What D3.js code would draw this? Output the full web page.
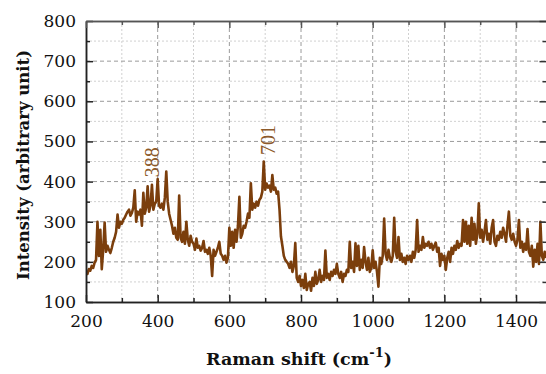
<!DOCTYPE html>
<html>
<head>
<meta charset="utf-8">
<script src="https://cdn.jsdelivr.net/npm/d3@7/dist/d3.min.js"></script>
<style>
  html, body { margin: 0; padding: 0; background: #fff; }
  svg { display: block; }
</style>
</head>
<body>
<svg id="chart" width="546" height="374"></svg>
<script>
// ---- data ----
const shiftStart = 200;   // cm-1, first sample
const shiftStep = 4;      // cm-1 between samples
const intensity = [
  // 200-296
  175,170,182,178,190,185,198,205,300,215,280,182,230,298,225,240,230,222,235,250,260,275,318,285,300,
  // 300-396
  295,305,310,318,325,330,315,322,335,378,300,325,318,330,290,372,320,335,388,325,340,392,330,345,350,
  // 400-496
  406,340,335,345,330,360,425,350,320,305,290,270,285,260,255,365,260,250,275,245,300,255,240,265,250,
  // 500-596
  245,230,258,235,240,228,235,252,225,230,220,235,215,165,230,215,225,235,250,220,215,205,215,198,210,
  // 600-696
  285,240,275,235,280,250,290,362,260,270,290,285,300,320,310,396,330,345,335,350,340,355,360,375,450,
  // 700-796
  380,395,385,390,375,416,380,385,370,375,330,263,240,215,205,200,195,185,200,175,190,247,160,150,165,
  // 800-896
  140,155,135,170,130,145,150,128,160,140,175,145,155,180,150,165,155,228,160,170,155,175,165,180,170,
  // 900-996
  195,170,160,175,150,170,165,180,175,250,185,200,175,246,190,240,180,205,185,237,200,180,210,175,185,
  // 1000-1096
  229,185,200,175,138,210,195,215,308,220,205,230,210,200,215,310,225,210,262,205,220,200,210,195,215,
  // 1100-1196
  205,215,200,225,210,230,304,225,240,230,262,235,245,240,250,235,245,230,240,248,225,235,190,220,205,
  // 1200-1296
  215,180,210,225,200,235,220,240,230,252,235,245,240,304,250,300,245,290,240,310,255,295,245,270,346,
  // 1300-1396
  260,280,250,275,304,255,270,245,285,304,250,240,265,255,275,260,285,270,250,290,325,265,255,270,250,
  // 1400-1484
  240,255,304,235,250,225,245,230,282,225,215,240,188,230,200,245,195,300,215,205,225,210
];
const xDomain = [200, 1485];
const yDomain = [100, 800];
const xMajorTicks = [200, 400, 600, 800, 1000, 1200, 1400];
const xMinorTicks = [300, 500, 700, 900, 1100, 1300];
const yMajorTicks = [100, 200, 300, 400, 500, 600, 700, 800];
const yMinorTicks = [150, 250, 350, 450, 550, 650, 750];
const peakLabels = ["388", "701"];
const peakX = [383, 708];
const peakLabelBase = [411, 466];

const points = intensity.map((v, i) => ({ x: shiftStart + i * shiftStep, y: v }));

// ---- layout ----
const svg = d3.select("#chart");
const L = 86, T = 21, R = 546.5, B = 302;
const lineColor = "#7b3e0c";
const labelColor = "#8d5a2a";

const x = d3.scaleLinear().domain(xDomain).range([L, R]);
const y = d3.scaleLinear().domain(yDomain).range([B, T]);

// grid
const grid = svg.append("g");
grid.selectAll(".hmin").data(yMinorTicks).join("line")
  .attr("x1", L).attr("x2", R).attr("y1", d => y(d)).attr("y2", d => y(d))
  .attr("stroke", "#d0d0d0").attr("stroke-width", 1).attr("stroke-dasharray", "2,2");
grid.selectAll(".vmin").data(xMinorTicks).join("line")
  .attr("y1", T).attr("y2", B).attr("x1", d => x(d)).attr("x2", d => x(d))
  .attr("stroke", "#d0d0d0").attr("stroke-width", 1).attr("stroke-dasharray", "2,2");
grid.selectAll(".hmaj").data(yMajorTicks.filter(d => d > yDomain[0] && d < yDomain[1])).join("line")
  .attr("x1", L).attr("x2", R).attr("y1", d => y(d)).attr("y2", d => y(d))
  .attr("stroke", "#9a9a9a").attr("stroke-width", 1).attr("stroke-dasharray", "4,3");
grid.selectAll(".vmaj").data(xMajorTicks.filter(d => d > xDomain[0])).join("line")
  .attr("y1", T).attr("y2", B).attr("x1", d => x(d)).attr("x2", d => x(d))
  .attr("stroke", "#9a9a9a").attr("stroke-width", 1).attr("stroke-dasharray", "4,3");

// clip
svg.append("clipPath").attr("id", "clip").append("rect")
  .attr("x", L).attr("y", T).attr("width", R - L).attr("height", B - T);

// line
const line = d3.line().x(d => x(d.x)).y(d => y(d.y));
svg.append("path").datum(points)
  .attr("clip-path", "url(#clip)")
  .attr("fill", "none").attr("stroke", lineColor)
  .attr("stroke-width", 2.6).attr("stroke-linejoin", "round")
  .attr("d", line);

// axes (ticks inward)
function styleAxis(g, color) {
  g.select(".domain").attr("stroke", color).attr("stroke-width", 1.5);
  g.selectAll(".tick line").attr("stroke", color).attr("stroke-width", 1.5);
}
const fontTick = "'DejaVu Serif', serif";

const xAxis = svg.append("g").attr("transform", `translate(0,${B})`)
  .call(d3.axisBottom(x).tickValues(xMajorTicks).tickSizeInner(-7).tickSizeOuter(0).tickPadding(13).tickFormat(d3.format("d")));
styleAxis(xAxis, "#222");
xAxis.selectAll(".tick text").attr("font-family", fontTick).attr("font-size", 17).attr("fill", "#111");
const xAxisMinor = svg.append("g").attr("transform", `translate(0,${B})`)
  .call(d3.axisBottom(x).tickValues(xMinorTicks).tickSizeInner(-4).tickSizeOuter(0).tickFormat(""));
styleAxis(xAxisMinor, "#222");

const yAxis = svg.append("g").attr("transform", `translate(${L},0)`)
  .call(d3.axisLeft(y).tickValues(yMajorTicks).tickSizeInner(-7).tickSizeOuter(0).tickPadding(10).tickFormat(d3.format("d")));
styleAxis(yAxis, "#222");
yAxis.selectAll(".tick text").attr("font-family", fontTick).attr("font-size", 17).attr("fill", "#111");
const yAxisMinor = svg.append("g").attr("transform", `translate(${L},0)`)
  .call(d3.axisLeft(y).tickValues(yMinorTicks).tickSizeInner(-4).tickSizeOuter(0).tickFormat(""));
styleAxis(yAxisMinor, "#222");

// top & right mirrored
const topA = svg.append("g").attr("transform", `translate(0,${T})`)
  .call(d3.axisTop(x).tickValues(xMajorTicks).tickSizeInner(-7).tickSizeOuter(0).tickFormat(""));
styleAxis(topA, "#555");
const topB = svg.append("g").attr("transform", `translate(0,${T})`)
  .call(d3.axisTop(x).tickValues(xMinorTicks).tickSizeInner(-4).tickSizeOuter(0).tickFormat(""));
styleAxis(topB, "#555");
const rightA = svg.append("g").attr("transform", `translate(${R},0)`)
  .call(d3.axisRight(y).tickValues(yMajorTicks).tickSizeInner(-7).tickSizeOuter(0).tickFormat(""));
styleAxis(rightA, "#333");
const rightB = svg.append("g").attr("transform", `translate(${R},0)`)
  .call(d3.axisRight(y).tickValues(yMinorTicks).tickSizeInner(-4).tickSizeOuter(0).tickFormat(""));
styleAxis(rightB, "#333");

// peak labels
peakLabels.forEach((t, i) => {
  const px = x(peakX[i]), py = y(peakLabelBase[i]);
  svg.append("text")
    .attr("transform", `translate(${px},${py}) rotate(-90)`)
    .attr("dominant-baseline", "central")
    .attr("font-family", "'Liberation Serif', serif")
    .attr("font-size", 20)
    .attr("fill", labelColor)
    .text(t);
});

// axis titles
const titleFont = "'DejaVu Serif', serif";
svg.append("text")
  .attr("transform", `translate(23,165) rotate(-90)`)
  .attr("text-anchor", "middle").attr("dominant-baseline", "central")
  .attr("font-family", titleFont).attr("font-weight", "bold")
  .attr("font-size", 16.5).attr("fill", "#111")
  .text("Intensity (arbitrary unit)");

const xt = svg.append("text")
  .attr("x", 299).attr("y", 365)
  .attr("text-anchor", "middle")
  .attr("font-family", titleFont).attr("font-weight", "bold")
  .attr("font-size", 17.5).attr("fill", "#111");
xt.append("tspan").text("Raman shift (cm");
xt.append("tspan").attr("dy", -8).attr("font-size", 13).text("-1");
xt.append("tspan").attr("dy", 8).text(")");
</script>
</body>
</html>
